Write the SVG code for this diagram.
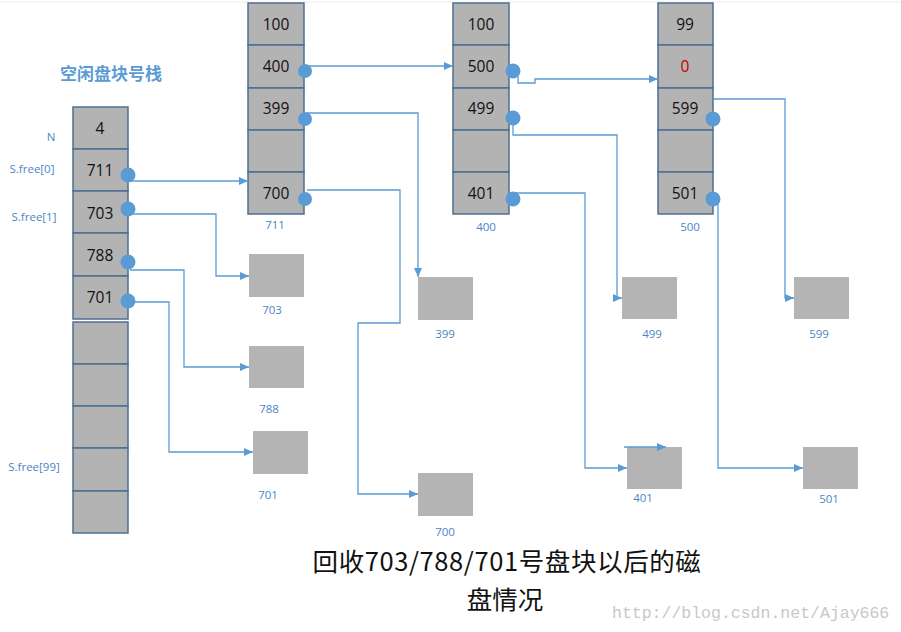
<svg xmlns="http://www.w3.org/2000/svg" width="901" height="632" viewBox="0 0 901 632">
<style>
.cell{fill:#b3b3b3;stroke:#4d6f94;stroke-width:1.5}
.blk{fill:#b4b4b4}
.ct{font-family:"Open Sans","Liberation Sans",sans-serif;font-size:15.5px;fill:#111;text-anchor:middle}
.lb{font-family:"Open Sans","Liberation Sans",sans-serif;font-size:11.5px;fill:#4a86c5;text-anchor:middle}
.dot{fill:#5b9bd5}
.cn{fill:none;stroke:#5b9bd5;stroke-width:1.3}
.cap{font-family:"Noto Sans CJK SC","Open Sans",sans-serif;font-size:25.5px;fill:#111;text-anchor:middle}
</style>
<defs>
<marker id="ah" markerWidth="10" markerHeight="8" refX="9" refY="4" orient="auto" markerUnits="userSpaceOnUse">
<path d="M0,0 L9,4 L0,8 z" fill="#5b9bd5"/>
</marker>
</defs>
<rect width="901" height="632" fill="#fff"/>
<line x1="0" y1="2" x2="901" y2="2" stroke="#ececec"/>

<g id="stack">
<text x="111" y="80" font-family="'Noto Sans CJK SC',sans-serif" font-size="17" font-weight="bold" fill="#5b9bd5" text-anchor="middle">空闲盘块号栈</text>
<text x="51" y="141" class="lb">N</text>
<text x="32" y="173" class="lb">S.free[0]</text>
<text x="34" y="221" class="lb">S.free[1]</text>
<text x="34" y="471" class="lb">S.free[99]</text>
<rect class="cell" x="73" y="107" width="55" height="42"/>
<rect class="cell" x="73" y="149" width="55" height="42"/>
<rect class="cell" x="73" y="191" width="55" height="42"/>
<rect class="cell" x="73" y="233" width="55" height="43"/>
<rect class="cell" x="73" y="276" width="55" height="43"/>
<rect class="cell" x="73" y="322" width="55" height="42"/>
<rect class="cell" x="73" y="364" width="55" height="42"/>
<rect class="cell" x="73" y="406" width="55" height="42"/>
<rect class="cell" x="73" y="448" width="55" height="43"/>
<rect class="cell" x="73" y="491" width="55" height="42"/>
<text x="100" y="134" class="ct">4</text>
<text x="100" y="176" class="ct">711</text>
<text x="100" y="219" class="ct">703</text>
<text x="100" y="261" class="ct">788</text>
<text x="100" y="303" class="ct">701</text>
<circle class="dot" cx="128" cy="175" r="7.5"/>
<circle class="dot" cx="128" cy="209" r="7.5"/>
<circle class="dot" cx="128" cy="262" r="7.5"/>
<circle class="dot" cx="128" cy="301" r="7.5"/>
</g>

<g id="blk711">
<rect class="cell" x="248" y="3" width="56" height="42"/>
<rect class="cell" x="248" y="45" width="56" height="43"/>
<rect class="cell" x="248" y="88" width="56" height="42"/>
<rect class="cell" x="248" y="130" width="56" height="42"/>
<rect class="cell" x="248" y="172" width="56" height="42"/>
<text x="276" y="30" class="ct">100</text>
<text x="276" y="72" class="ct">400</text>
<text x="276" y="114" class="ct">399</text>
<text x="276" y="199" class="ct">700</text>
<circle class="dot" cx="305" cy="71" r="7"/>
<circle class="dot" cx="305" cy="119" r="7"/>
<circle class="dot" cx="305" cy="199" r="7"/>
<text x="275" y="229" class="lb">711</text>
</g>

<g id="blk400">
<rect class="cell" x="453" y="3" width="56" height="42"/>
<rect class="cell" x="453" y="45" width="56" height="43"/>
<rect class="cell" x="453" y="88" width="56" height="42"/>
<rect class="cell" x="453" y="130" width="56" height="42"/>
<rect class="cell" x="453" y="172" width="56" height="42"/>
<text x="481" y="30" class="ct">100</text>
<text x="481" y="72" class="ct">500</text>
<text x="481" y="114" class="ct">499</text>
<text x="481" y="199" class="ct">401</text>
<circle class="dot" cx="513" cy="71" r="7.5"/>
<circle class="dot" cx="513" cy="118" r="7.5"/>
<circle class="dot" cx="513" cy="199" r="7.5"/>
<text x="486" y="231" class="lb">400</text>
</g>

<g id="blk500">
<rect class="cell" x="658" y="3" width="55" height="42"/>
<rect class="cell" x="658" y="45" width="55" height="43"/>
<rect class="cell" x="658" y="88" width="55" height="42"/>
<rect class="cell" x="658" y="130" width="55" height="42"/>
<rect class="cell" x="658" y="172" width="55" height="42"/>
<text x="685" y="30" class="ct">99</text>
<text x="685" y="72" class="ct" style="fill:#c00000">0</text>
<text x="685" y="114" class="ct">599</text>
<text x="685" y="199" class="ct">501</text>
<circle class="dot" cx="713" cy="119" r="7.5"/>
<circle class="dot" cx="713" cy="199" r="7.5"/>
<text x="690" y="231" class="lb">500</text>
</g>

<g id="b703"><rect class="blk" x="249" y="254" width="55" height="43"/><text x="272" y="314" class="lb">703</text></g>
<g id="b788"><rect class="blk" x="249" y="346" width="55" height="42"/><text x="269" y="413" class="lb">788</text></g>
<g id="b701"><rect class="blk" x="253" y="431" width="55" height="43"/><text x="268" y="499" class="lb">701</text></g>
<g id="b399"><rect class="blk" x="418" y="277" width="55" height="43"/><text x="445" y="338" class="lb">399</text></g>
<g id="b700"><rect class="blk" x="418" y="473" width="55" height="43"/><text x="445" y="536" class="lb">700</text></g>
<g id="b499"><rect class="blk" x="622" y="277" width="55" height="42"/><text x="652" y="338" class="lb">499</text></g>
<g id="b401"><rect class="blk" x="627" y="447" width="55" height="42"/><text x="643" y="502" class="lb">401</text></g>
<g id="b599"><rect class="blk" x="794" y="277" width="55" height="42"/><text x="819" y="338" class="lb">599</text></g>
<g id="b501"><rect class="blk" x="803" y="447" width="55" height="42"/><text x="829" y="503" class="lb">501</text></g>

<g id="connectors">
<path class="cn" d="M130,181 H248" marker-end="url(#ah)"/>
<path class="cn" d="M130,214 H216 V276 H249" marker-end="url(#ah)"/>
<path class="cn" d="M130,270 H184 V367 H249" marker-end="url(#ah)"/>
<path class="cn" d="M130,302 H169 V452 H253" marker-end="url(#ah)"/>
<path class="cn" d="M307,66 H453" marker-end="url(#ah)"/>
<path class="cn" d="M307,113 H418 V277" marker-end="url(#ah)"/>
<path class="cn" d="M307,190 H400 V323 H358 V494 H418" marker-end="url(#ah)"/>
<path class="cn" d="M518,76 V83 H535 V79 H658" marker-end="url(#ah)"/>
<path class="cn" d="M513,125 V135 H617 V298 H622" marker-end="url(#ah)"/>
<path class="cn" d="M515,193 H585 V468 H627" marker-end="url(#ah)"/>
<path class="cn" d="M624,447 H666" marker-end="url(#ah)"/>
<path class="cn" d="M713,99 H785 V298 H794" marker-end="url(#ah)"/>
<path class="cn" d="M718,199 V468 H803" marker-end="url(#ah)"/>
</g>

<text class="cap" x="507" y="571" letter-spacing="0.6">回收703/788/701号盘块以后的磁</text>
<text class="cap" x="505" y="609">盘情况</text>
<text x="612" y="618" font-family="'Liberation Mono',monospace" font-size="16.5" fill="#c8c8c8">http://blog.csdn.net/Ajay666</text>
</svg>
